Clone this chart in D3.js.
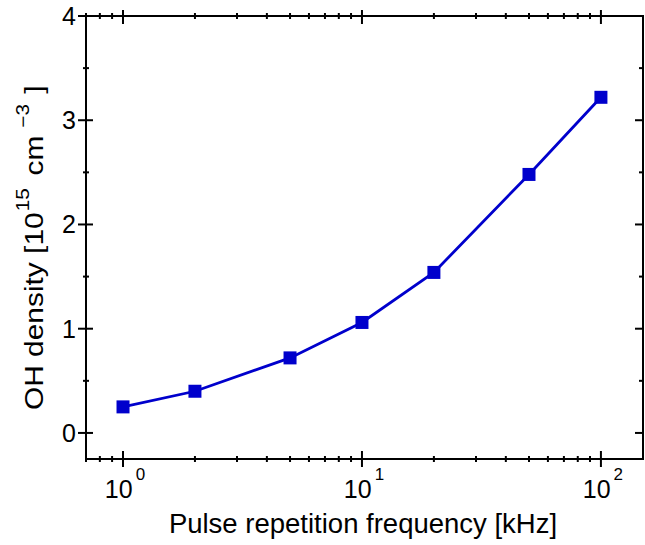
<!DOCTYPE html>
<html>
<head>
<meta charset="utf-8">
<script src="https://cdn.jsdelivr.net/npm/d3@7"></script>
<style>
  html, body { margin: 0; padding: 0; background: #fff; }
  svg { display: block; font-family: "Liberation Sans", Arial, sans-serif; }
</style>
</head>
<body>
<svg id="chart" width="645" height="545"></svg>
<script>
// Pulse repetition frequency (kHz) and measured OH density (10^15 cm^-3)
const frequencies = [1, 2, 5, 10, 20, 50, 100];
const ohDensity   = [0.25, 0.40, 0.72, 1.06, 1.54, 2.48, 3.22];

const xMajorTicks = [1, 10, 100];
const xMinorTicks = [0.7, 0.8, 0.9, 2, 3, 4, 5, 6, 7, 8, 9, 20, 30, 40, 50, 60, 70, 80, 90];
const yMajorTicks = [0, 1, 2, 3, 4];
const yMinorTicks = [0.5, 1.5, 2.5, 3.5];
const xExponents  = ["0", "1", "2"];

const W = 645, H = 545;
const margin = { top: 16, right: 2, bottom: 86, left: 86 };
const iw = W - margin.left - margin.right;
const ih = H - margin.top - margin.bottom;

const svg = d3.select("#chart");
const g = svg.append("g").attr("transform", `translate(${margin.left},${margin.top})`);

const x = d3.scaleLog().domain([0.7, 150]).range([0, iw]);
const y = d3.scaleLinear().domain([-0.25, 4]).range([ih, 0]);

const ink = "#000";
const blue = "#0000cc";

// frame
g.append("rect").attr("x", 0).attr("y", 0).attr("width", iw).attr("height", ih)
  .attr("fill", "none").attr("stroke", ink).attr("stroke-width", 2);

// tick helper: draws a short segment across/along an edge
function ticks(values, pos, horizontal, edge, inLen, outLen, sign) {
  g.append("g").selectAll("line").data(values).join("line")
    .attr("x1", d => horizontal ? pos(d) : edge - sign * outLen)
    .attr("x2", d => horizontal ? pos(d) : edge + sign * inLen)
    .attr("y1", d => horizontal ? edge + sign * outLen : pos(d))
    .attr("y2", d => horizontal ? edge - sign * inLen : pos(d))
    .attr("stroke", ink).attr("stroke-width", 2);
}

// bottom axis (ticks cross the axis line)
ticks(xMajorTicks, x, true, ih, 8, 8, 1);
ticks(xMinorTicks, x, true, ih, 3, 3, 1);
// top axis
ticks(xMajorTicks, x, true, 0, 8, 6, -1);
ticks(xMinorTicks, x, true, 0, 3, 3, -1);
// left axis
ticks(yMajorTicks, y, false, 0, 7, 8, 1);
ticks(yMinorTicks, y, false, 0, 3, 3, 1);
// right axis (inward only)
ticks(yMajorTicks, y, false, iw, 8, 0, -1);
ticks(yMinorTicks, y, false, iw, 4, 0, -1);

// x tick labels: 10 with superscript exponent
const xl = g.append("g").selectAll("text").data(xMajorTicks).join("text")
  .attr("x", d => x(d) + 2)
  .attr("y", ih + 39)
  .attr("text-anchor", "middle")
  .attr("font-size", 25)
  .attr("fill", ink);
xl.append("tspan").text("10");
xl.append("tspan").attr("dy", -18).attr("dx", 3).attr("font-size", 17)
  .text((d, i) => xExponents[i]);

// y tick labels
g.append("g").selectAll("text").data(yMajorTicks).join("text")
  .attr("x", -10)
  .attr("y", d => y(d))
  .attr("dy", "0.36em")
  .attr("text-anchor", "end")
  .attr("font-size", 25)
  .attr("fill", ink)
  .text(d => d);

// data line and square markers
const line = d3.line().x(d => x(d[0])).y(d => y(d[1]));
const pts = frequencies.map((f, i) => [f, ohDensity[i]]);
g.append("path").datum(pts).attr("d", line)
  .attr("fill", "none").attr("stroke", blue).attr("stroke-width", 2.8);
const ms = 13;
g.append("g").selectAll("rect").data(pts).join("rect")
  .attr("x", d => x(d[0]) - ms / 2)
  .attr("y", d => y(d[1]) - ms / 2)
  .attr("width", ms).attr("height", ms)
  .attr("fill", blue);

// axis titles
svg.append("text")
  .attr("x", 363)
  .attr("y", 533)
  .attr("text-anchor", "middle")
  .attr("font-size", 27.5)
  .attr("fill", ink)
  .text("Pulse repetition frequency [kHz]");

// y title, set slightly wide along its reading direction
const yt = svg.append("text")
  .attr("transform", "translate(43,410) rotate(-90) scale(1.15,1)")
  .attr("text-anchor", "start")
  .attr("font-size", 26)
  .attr("fill", ink);
yt.append("tspan").text("OH density [10");
yt.append("tspan").attr("dy", -14).attr("dx", 1).attr("font-size", 18).text("15");
yt.append("tspan").attr("dy", 14).attr("dx", 11).text("cm");
yt.append("tspan").attr("dy", -14).attr("dx", 7).attr("font-size", 18).text("−3");
yt.append("tspan").attr("dy", 14).attr("dx", 9).text("]");
</script>
</body>
</html>
